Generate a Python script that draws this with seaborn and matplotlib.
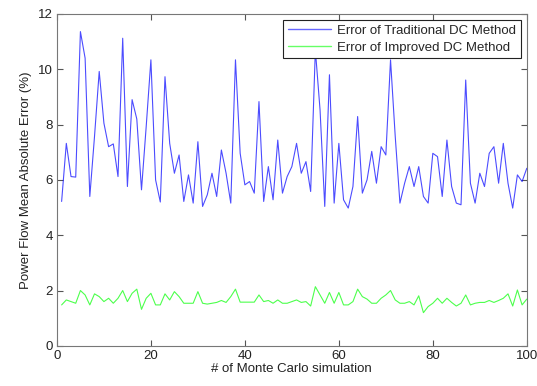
import numpy as np
import pandas as pd
import matplotlib
matplotlib.use("Agg")
import matplotlib.pyplot as plt
import seaborn as sns

# --- Data ---
runs = list(range(1, 101))

traditional_err = [
    5.22, 7.32, 6.12, 6.10, 11.36, 10.40, 5.40, 7.57, 9.92, 8.05,
    7.20, 7.30, 6.12, 11.12, 5.76, 8.90, 8.20, 5.64, 7.93, 10.34,
    6.00, 5.20, 9.73, 7.32, 6.24, 6.90, 5.22, 6.18, 5.16, 7.38,
    5.04, 5.46, 6.24, 5.40, 7.08, 6.24, 5.16, 10.34, 6.96, 5.82,
    5.94, 5.52, 8.83, 5.22, 6.48, 5.28, 7.44, 5.52, 6.12, 6.48,
    7.32, 6.24, 6.66, 5.58, 10.70, 8.53, 5.04, 9.80, 5.16, 7.32,
    5.28, 4.98, 5.76, 8.29, 5.52, 6.00, 7.03, 5.88, 7.20, 6.90,
    10.34, 7.57, 5.16, 5.88, 6.48, 5.76, 6.48, 5.40, 5.16, 6.96,
    6.84, 5.40, 7.44, 5.76, 5.16, 5.10, 9.61, 5.88, 5.16, 6.24,
    5.76, 6.96, 7.20, 5.88, 7.32, 5.88, 4.98, 6.18, 5.94, 6.42,
]

improved_err = [
    1.48, 1.66, 1.60, 1.54, 2.00, 1.84, 1.48, 1.88, 1.78, 1.60,
    1.72, 1.54, 1.72, 2.00, 1.60, 1.90, 2.05, 1.32, 1.72, 1.90,
    1.48, 1.48, 1.88, 1.66, 1.96, 1.78, 1.54, 1.54, 1.54, 1.96,
    1.54, 1.51, 1.54, 1.57, 1.64, 1.57, 1.78, 2.05, 1.58, 1.58,
    1.58, 1.58, 1.84, 1.60, 1.64, 1.54, 1.66, 1.54, 1.54, 1.60,
    1.66, 1.57, 1.60, 1.44, 2.14, 1.84, 1.54, 1.93, 1.54, 1.93,
    1.48, 1.48, 1.60, 2.05, 1.78, 1.69, 1.54, 1.54, 1.72, 1.84,
    2.00, 1.66, 1.54, 1.54, 1.60, 1.48, 1.81, 1.20, 1.42, 1.54,
    1.72, 1.54, 1.72, 1.57, 1.44, 1.54, 1.84, 1.48, 1.54, 1.57,
    1.57, 1.64, 1.57, 1.64, 1.72, 1.88, 1.44, 2.02, 1.48, 1.69,
]

series_names = ["Error of Traditional DC Method", "Error of Improved DC Method"]
series_colors = ["#0000ff", "#00ff00"]
x_ticks = [0, 20, 40, 60, 80, 100]
y_ticks = [0, 2, 4, 6, 8, 10, 12]

# --- Build long table ---
df = pd.DataFrame({
    "run": runs * 2,
    "error": traditional_err + improved_err,
    "method": [series_names[0]] * len(runs) + [series_names[1]] * len(runs),
})

# --- Plot ---
sns.set_style("ticks")
plt.rcParams["font.family"] = ["Liberation Sans", "DejaVu Sans"]

fig = plt.figure(figsize=(5.37, 3.86), dpi=100)
ax = fig.add_axes([0.106, 0.104, 0.875, 0.860])

sns.lineplot(data=df, x="run", y="error", hue="method",
             palette=dict(zip(series_names, series_colors)),
             linewidth=0.8, alpha=0.7, ax=ax)

ax.set_xlim(0, 100)
ax.set_ylim(0, 12)
ax.set_xticks(x_ticks)
ax.set_yticks(y_ticks)
ax.tick_params(direction="in", top=True, right=True, length=4,
               labelsize=9.5, color="#555555", labelcolor="#222222", pad=3)
for sp in ax.spines.values():
    sp.set_visible(True)
    sp.set_color("#777777")
    sp.set_linewidth(0.8)

ax.set_xlabel("# of Monte Carlo simulation", fontsize=9.5, color="#222222", labelpad=1)
ax.set_ylabel("Power Flow Mean Absolute Error (%)", fontsize=9.5, color="#222222", labelpad=4)

leg = ax.legend(loc="upper right", fontsize=9.5, frameon=True, fancybox=False,
                handlelength=3.3, handletextpad=0.45, borderpad=0.35,
                labelspacing=0.35, borderaxespad=0.45)
leg.get_frame().set_edgecolor("#222222")
leg.get_frame().set_linewidth(0.8)
leg.get_frame().set_alpha(1.0)
for line in leg.get_lines():
    line.set_alpha(0.6)
    line.set_linewidth(1.0)

fig.savefig("out.png", dpi=100)
